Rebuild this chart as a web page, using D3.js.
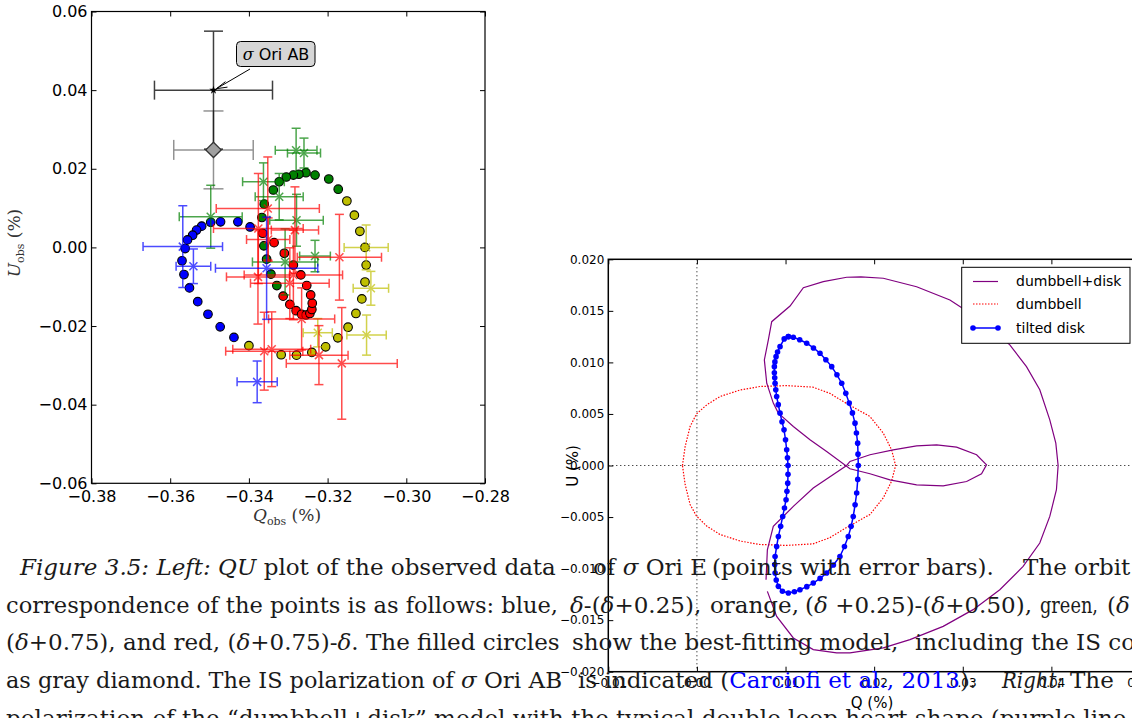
<!DOCTYPE html>
<html>
<head>
<meta charset="utf-8">
<script src="https://cdn.jsdelivr.net/npm/d3@7"></script>
<style>
  body { margin: 0; background: #fff; }
</style>
</head>
<body>
<div id="fig"></div>
<script>
// ----------------- //
// Left panel data (Q_obs, U_obs in %)
// ----------------- //
var qTicksL = [-0.38, -0.36, -0.34, -0.32, -0.30, -0.28]
var uTicksL = [-0.06, -0.04, -0.02, 0.00, 0.02, 0.04, 0.06]

// best-fitting model, one array per phase range
var modelBlue = [[-0.3397,0.0052],[-0.3428,0.0065],[-0.3472,0.0065],[-0.3497,0.0064],[-0.3520,0.0054],[-0.3533,0.0044],
  [-0.3543,0.0031],[-0.3556,0.0019],[-0.3562,-0.0003],[-0.3570,-0.0034],[-0.3565,-0.0069],[-0.3551,-0.0103],
  [-0.3530,-0.0138],[-0.3504,-0.0170],[-0.3473,-0.0202],[-0.3438,-0.0229]]
var modelYellow = [[-0.3400,-0.0250],[-0.3318,-0.0273],[-0.3279,-0.0274],[-0.3240,-0.0267],[-0.3205,-0.0253],[-0.3174,-0.0230],
  [-0.3148,-0.0203],[-0.3128,-0.0168],[-0.3113,-0.0131],[-0.3105,-0.0088],[-0.3102,-0.0045],[-0.3105,0.0000],
  [-0.3118,0.0041],[-0.3132,0.0082],[-0.3151,0.0118]]
var modelGreen = [[-0.3173,0.0148],[-0.3197,0.0174],[-0.3232,0.0184],[-0.3255,0.0190],[-0.3273,0.0186],[-0.3287,0.0184],
  [-0.3305,0.0179],[-0.3323,0.0167],[-0.3338,0.0146],[-0.3361,0.0110],[-0.3367,0.0076],[-0.3362,0.0004],
  [-0.3355,-0.0030],[-0.3344,-0.0068],[-0.3329,-0.0097]]
var modelRed = [[-0.3313,-0.0124],[-0.3296,-0.0145],[-0.3280,-0.0161],[-0.3266,-0.0170],[-0.3255,-0.0172],[-0.3245,-0.0168],
  [-0.3240,-0.0158],[-0.3239,-0.0142],[-0.3243,-0.0121],[-0.3253,-0.0097],[-0.3268,-0.0070],[-0.3287,-0.0045],
  [-0.3310,-0.0015],[-0.3336,0.0012],[-0.3365,0.0036]]

// observations: [Q, U, errQ, errU]
var obsBlue = [[-0.3568,0.0002,0.0101,0.0104],[-0.3541,-0.0048,0.0044,0.0044],[-0.3355,-0.0053,0.0130,0.0130],
  [-0.3379,-0.0342,0.0051,0.0053]]
var obsYellow = [[-0.3102,0.0000,0.0056,0.0057],[-0.3090,-0.0104,0.0045,0.0043],[-0.3101,-0.0223,0.0050,0.0051],
  [-0.3225,-0.0217,0.0037,0.0036]]
var obsGreen = [[-0.3280,0.0247,0.0053,0.0056],[-0.3260,0.0240,0.0042,0.0038],[-0.3497,0.0078,0.0080,0.0080],
  [-0.3363,0.0167,0.0053,0.0048],[-0.3323,0.0129,0.0061,0.0059],[-0.3279,0.0069,0.0068,0.0066],
  [-0.3308,-0.0037,0.0083,0.0084],[-0.3232,-0.0022,0.0039,0.0040]]
var obsRed = [[-0.3352,0.0099,0.0131,0.0131],[-0.3376,0.0048,0.0114,0.0140],[-0.3170,-0.0025,0.0107,0.0109],
  [-0.3351,0.0020,0.0055,0.0055],[-0.3283,0.0044,0.0060,0.0110],[-0.3164,-0.0295,0.0141,0.0142],
  [-0.3222,-0.0274,0.0074,0.0075],[-0.3361,-0.0264,0.0098,0.0099],[-0.3342,-0.0259,0.0099,0.0095],
  [-0.3266,-0.0182,0.0084,0.0079],[-0.3287,-0.0070,0.0125,0.0114],[-0.3296,-0.0091,0.0100,0.0090],
  [-0.3377,-0.0075,0.0080,0.0120]]
var isDiamond = [-0.3490, 0.0248, 0.0101, 0.0099]
var oriAB = [-0.3490, 0.0400, 0.0150, 0.0150]

// ----------------- //
// Right panel data (Q, U in %)
// ----------------- //
var qTicksR = [-0.01, 0.00, 0.01, 0.02, 0.03, 0.04, 0.05]
var uTicksR = [-0.020, -0.015, -0.010, -0.005, 0.000, 0.005, 0.010, 0.015, 0.020]

var dumbbellDisk = [[0.00919,0.00508],[0.00862,0.00605],[0.00788,0.00798],[0.00761,0.01024],[0.00806,0.01218],
  [0.00844,0.01395],[0.01051,0.01547],[0.01201,0.01725],[0.01426,0.01783],[0.01690,0.01826],[0.01850,0.01830],
  [0.02103,0.01816],[0.02479,0.01734],[0.02855,0.01606],[0.03230,0.01395],[0.03531,0.01170],[0.03719,0.00959],
  [0.03869,0.00734],[0.03982,0.00443],[0.04050,0.00217],[0.04076,0.00000],[0.04057,-0.00235],[0.03982,-0.00494],
  [0.03869,-0.00752],[0.03681,-0.00979],[0.03418,-0.01205],[0.03117,-0.01398],[0.02779,-0.01560],[0.02404,-0.01689],
  [0.02103,-0.01769],[0.01727,-0.01818],[0.01577,-0.01818],[0.01313,-0.01786],[0.01088,-0.01673],[0.00900,-0.01463],
  [0.00795,-0.01221], null,
  [0.00780,-0.01108],[0.00795,-0.00817],[0.00862,-0.00591],[0.01088,-0.00397],[0.01313,-0.00219],[0.01690,0.00000],
  [0.01727,0.00039],[0.01953,0.00104],[0.02215,0.00152],[0.02479,0.00191],[0.02705,0.00200],[0.02930,0.00178],
  [0.03156,0.00104],[0.03268,0.00007],[0.03212,-0.00080],[0.03043,-0.00155],[0.02779,-0.00197],[0.02479,-0.00187],
  [0.02178,-0.00139],[0.01953,-0.00080],[0.01727,-0.00032],[0.01464,0.00136],[0.01276,0.00249],[0.01088,0.00378],
  [0.00919,0.00508]]

var dumbbell = [[-0.00163,0.00000],[-0.00133,0.00184],[-0.00077,0.00378],[-0.00005,0.00500],[0.00111,0.00588],
  [0.00260,0.00669],[0.00490,0.00733],[0.00710,0.00766],[0.01010,0.00775],[0.01310,0.00760],[0.01500,0.00700],
  [0.01652,0.00620],[0.01953,0.00475],[0.02103,0.00314],[0.02197,0.00152],[0.02242,0.00000],[0.02197,-0.00152],
  [0.02103,-0.00314],[0.01953,-0.00475],[0.01652,-0.00620],[0.01500,-0.00700],[0.01310,-0.00760],[0.01010,-0.00775],
  [0.00710,-0.00766],[0.00490,-0.00733],[0.00260,-0.00669],[0.00111,-0.00588],[-0.00005,-0.00490],[-0.00077,-0.00378],
  [-0.00133,-0.00184],[-0.00163,0.00000]]

var tiltedDisk = [[0.01032,0.01250],[0.00985,0.01228],[0.00938,0.01153],[0.00910,0.01100],[0.00893,0.01056],
  [0.00880,0.01005],[0.00874,0.00959],[0.00874,0.00900],[0.00878,0.00850],[0.00882,0.00798],[0.00890,0.00735],
  [0.00900,0.00669],[0.00918,0.00590],[0.00938,0.00508],[0.00960,0.00425],[0.00983,0.00346],[0.01000,0.00250],
  [0.01013,0.00152],[0.01022,0.00075],[0.01028,0.00000],[0.01028,-0.00085],[0.01025,-0.00171],[0.01016,-0.00250],
  [0.01006,-0.00332],[0.00988,-0.00412],[0.00968,-0.00494],[0.00945,-0.00590],[0.00919,-0.00688],[0.00900,-0.00785],
  [0.00882,-0.00882],[0.00878,-0.00960],[0.00882,-0.01043],[0.00895,-0.01110],[0.00919,-0.01172],[0.00965,-0.01220],
  [0.01032,-0.01236],[0.01100,-0.01225],[0.01163,-0.01205],[0.01240,-0.01175],[0.01313,-0.01140],[0.01390,-0.01095],
  [0.01464,-0.01043],[0.01540,-0.00965],[0.01614,-0.00882],[0.01665,-0.00785],[0.01708,-0.00688],[0.01740,-0.00590],
  [0.01764,-0.00494],[0.01785,-0.00380],[0.01803,-0.00267],[0.01815,-0.00135],[0.01821,0.00000],[0.01818,0.00110],
  [0.01814,0.00217],[0.01800,0.00315],[0.01784,0.00411],[0.01755,0.00510],[0.01719,0.00605],[0.01680,0.00700],
  [0.01634,0.00798],[0.01580,0.00880],[0.01521,0.00959],[0.01455,0.01025],[0.01389,0.01089],[0.01315,0.01140],
  [0.01239,0.01186],[0.01160,0.01220],[0.01088,0.01244],[0.01032,0.01250]]

var legendNames = ["dumbbell+disk", "dumbbell", "tilted disk"]

var svg = d3.select("#fig").append("svg")
    .attr("width", 1132)
    .attr("height", 718)
    .attr("font-family", "DejaVu Sans")

// ------------------------------- //
// Left panel
// ------------------------------- //
var xL = d3.scaleLinear().domain([-0.38, -0.28]).range([91.5, 485])
var yL = d3.scaleLinear().domain([-0.06, 0.06]).range([483.3, 11.5])
var left = svg.append("g")

left.append("g")
    .attr("transform", "translate(0,483.3)")
    .call(d3.axisBottom(xL).tickValues(qTicksL).tickSize(-5).tickPadding(7).tickFormat(d3.format(".2f")))
    .call(function(g) { g.select(".domain").remove() })
    .attr("font-size", 16).attr("font-family", "DejaVu Sans")
left.append("g")
    .attr("transform", "translate(0,11.5)")
    .call(d3.axisTop(xL).tickValues(qTicksL).tickSize(-5).tickFormat(""))
    .call(function(g) { g.select(".domain").remove() })
left.append("g")
    .attr("transform", "translate(91.5,0)")
    .call(d3.axisLeft(yL).tickValues(uTicksL).tickSize(-5).tickPadding(4).tickFormat(d3.format(".2f")))
    .call(function(g) { g.select(".domain").remove() })
    .attr("font-size", 16).attr("font-family", "DejaVu Sans")
left.append("g")
    .attr("transform", "translate(485,0)")
    .call(d3.axisRight(yL).tickValues(uTicksL).tickSize(-5).tickFormat(""))
    .call(function(g) { g.select(".domain").remove() })
left.append("rect")
    .attr("x", 91.5).attr("y", 11.5).attr("width", 485 - 91.5).attr("height", 483.3 - 11.5)
    .attr("fill", "none").attr("stroke", "#000").attr("stroke-width", 1.2)

// error bars with caps and x marker
function errorBars(g, pts, color, op, cap, mark) {
  pts.forEach(function(d) {
    var cx = xL(d[0]), cy = yL(d[1])
    var x0 = xL(d[0] - d[2]), x1 = xL(d[0] + d[2])
    var y0 = yL(d[1] - d[3]), y1 = yL(d[1] + d[3])
    var e = g.append("g").attr("stroke", color).attr("stroke-width", 1.5).attr("opacity", op).attr("fill", "none")
    e.append("line").attr("x1", x0).attr("x2", x1).attr("y1", cy).attr("y2", cy)
    e.append("line").attr("x1", cx).attr("x2", cx).attr("y1", y0).attr("y2", y1)
    e.append("line").attr("x1", x0).attr("x2", x0).attr("y1", cy - cap).attr("y2", cy + cap)
    e.append("line").attr("x1", x1).attr("x2", x1).attr("y1", cy - cap).attr("y2", cy + cap)
    e.append("line").attr("x1", cx - cap).attr("x2", cx + cap).attr("y1", y0).attr("y2", y0)
    e.append("line").attr("x1", cx - cap).attr("x2", cx + cap).attr("y1", y1).attr("y2", y1)
    if (mark) {
      e.append("line").attr("x1", cx - 4).attr("x2", cx + 4).attr("y1", cy - 4).attr("y2", cy + 4)
      e.append("line").attr("x1", cx - 4).attr("x2", cx + 4).attr("y1", cy + 4).attr("y2", cy - 4)
    }
  })
}

// IS diamond and sigma Ori AB
errorBars(left, [isDiamond], "#808080", 0.85, 10, false)
errorBars(left, [oriAB], "#000", 0.75, 9.5, false)
left.append("path")
    .attr("d", d3.symbol().type(d3.symbolDiamond2).size(150)())
    .attr("transform", "translate(" + xL(isDiamond[0]) + "," + yL(isDiamond[1]) + ")")
    .attr("fill", "#a0a0a0").attr("stroke", "#333").attr("stroke-width", 1.3)
left.append("path")
    .attr("d", d3.symbol().type(d3.symbolStar).size(22)())
    .attr("transform", "translate(" + xL(oriAB[0]) + "," + yL(oriAB[1]) + ")")
    .attr("fill", "#000")

// model circles
var circleSets = [[modelBlue, "#0000ff"], [modelYellow, "#bfbf00"], [modelGreen, "#008000"], [modelRed, "#ff0000"]]
circleSets.forEach(function(s) {
  left.append("g").selectAll("circle")
    .data(s[0]).enter().append("circle")
    .attr("cx", function(d) { return xL(d[0]) })
    .attr("cy", function(d) { return yL(d[1]) })
    .attr("r", 4.3)
    .attr("fill", s[1]).attr("stroke", "#000").attr("stroke-width", 1.1)
})

// observed points
errorBars(left, obsGreen, "#008000", 0.7, 4.5, true)
errorBars(left, obsYellow, "#bfbf00", 0.7, 4.5, true)
errorBars(left, obsRed, "#ff0000", 0.7, 4.5, true)
errorBars(left, obsBlue, "#0000ff", 0.7, 4.5, true)

// annotation
left.append("line")
    .attr("x1", 250).attr("y1", 69).attr("x2", xL(oriAB[0]) + 3).attr("y2", yL(oriAB[1]) - 1.5)
    .attr("stroke", "#000").attr("stroke-width", 1)
left.append("path")
    .attr("d", "M" + (xL(oriAB[0]) + 12) + "," + (yL(oriAB[1]) - 8.5) + "L" + (xL(oriAB[0]) + 3) + "," + (yL(oriAB[1]) - 1.5) +
      "L" + (xL(oriAB[0]) + 14) + "," + (yL(oriAB[1]) - 3))
    .attr("fill", "none").attr("stroke", "#000").attr("stroke-width", 1)
left.append("rect")
    .attr("x", 236.5).attr("y", 41.5).attr("width", 78.5).attr("height", 25).attr("rx", 4)
    .attr("fill", "#d6d6d6").attr("stroke", "#000").attr("stroke-width", 1)
var ann = left.append("text").attr("x", 276).attr("y", 59.5).attr("text-anchor", "middle").attr("font-size", 16)
ann.append("tspan").attr("font-family", "DejaVu Serif").attr("font-style", "italic").text("σ")
ann.append("tspan").text(" Ori AB")

// axis labels
var yLab = left.append("text")
    .attr("transform", "translate(20,243) rotate(-90)")
    .attr("text-anchor", "middle").attr("font-family", "DejaVu Serif").attr("font-size", 17).attr("fill", "#333")
yLab.append("tspan").attr("font-style", "italic").text("U")
yLab.append("tspan").attr("font-size", 11).attr("dy", 4).text("obs")
yLab.append("tspan").attr("dy", -4).text(" (%)")
var xLab = left.append("text")
    .attr("x", 287).attr("y", 521)
    .attr("text-anchor", "middle").attr("font-family", "DejaVu Serif").attr("font-size", 17).attr("fill", "#333")
xLab.append("tspan").attr("font-style", "italic").text("Q")
xLab.append("tspan").attr("font-size", 11).attr("dy", 4).text("obs")
xLab.append("tspan").attr("dy", -4).text(" (%)")

// ------------------------------- //
// Right panel
// ------------------------------- //
var xR = d3.scaleLinear().domain([-0.01, 0.05]).range([608.3, 1140])
var yR = d3.scaleLinear().domain([-0.02, 0.02]).range([671.7, 259.3])
var right = svg.append("g")

right.append("g")
    .attr("transform", "translate(0,671.7)")
    .call(d3.axisBottom(xR).tickValues(qTicksR).tickSize(-5).tickPadding(6.5).tickFormat(d3.format(".2f")))
    .call(function(g) { g.select(".domain").remove() })
    .attr("font-size", 12).attr("font-family", "DejaVu Sans")
right.append("g")
    .attr("transform", "translate(0,259.3)")
    .call(d3.axisTop(xR).tickValues(qTicksR).tickSize(-5).tickFormat(""))
    .call(function(g) { g.select(".domain").remove() })
right.append("g")
    .attr("transform", "translate(608.3,0)")
    .call(d3.axisLeft(yR).tickValues(uTicksR).tickSize(-5).tickPadding(4).tickFormat(d3.format(".3f")))
    .call(function(g) { g.select(".domain").remove() })
    .attr("font-size", 12).attr("font-family", "DejaVu Sans")
right.append("rect")
    .attr("x", 608.3).attr("y", 259.3).attr("width", 1140 - 608.3).attr("height", 671.7 - 259.3)
    .attr("fill", "none").attr("stroke", "#000").attr("stroke-width", 1.5)

// zero lines
right.append("line")
    .attr("x1", xR(0)).attr("x2", xR(0)).attr("y1", yR(0.02)).attr("y2", yR(-0.02))
    .attr("stroke", "#000").attr("stroke-dasharray", "1,3")
right.append("line")
    .attr("x1", xR(-0.01)).attr("x2", xR(0.05)).attr("y1", yR(0)).attr("y2", yR(0))
    .attr("stroke", "#000").attr("stroke-dasharray", "1,3")

var lineR = d3.line()
    .defined(function(d) { return d != null })
    .x(function(d) { return xR(d[0]) })
    .y(function(d) { return yR(d[1]) })

right.append("path").datum(dumbbell).attr("d", lineR)
    .attr("fill", "none").attr("stroke", "#ff0000").attr("stroke-width", 1.2).attr("stroke-dasharray", "1.5,1.5")
right.append("path").datum(dumbbellDisk).attr("d", lineR)
    .attr("fill", "none").attr("stroke", "#800080").attr("stroke-width", 1.2)
right.append("path").datum(tiltedDisk).attr("d", lineR)
    .attr("fill", "none").attr("stroke", "#0000ff").attr("stroke-width", 1.5)
right.append("g").selectAll("circle")
    .data(tiltedDisk).enter().append("circle")
    .attr("cx", function(d) { return xR(d[0]) })
    .attr("cy", function(d) { return yR(d[1]) })
    .attr("r", 2.8).attr("fill", "#0000ff")

// legend
var leg = right.append("g")
leg.append("rect").attr("x", 961.7).attr("y", 267.3).attr("width", 168.3).attr("height", 76)
    .attr("fill", "#fff").attr("stroke", "#000").attr("stroke-width", 1)
var legY = [281.5, 304, 328]
leg.append("line").attr("x1", 973).attr("x2", 998).attr("y1", legY[0]).attr("y2", legY[0])
    .attr("stroke", "#800080").attr("stroke-width", 1.2)
leg.append("line").attr("x1", 973).attr("x2", 998).attr("y1", legY[1]).attr("y2", legY[1])
    .attr("stroke", "#ff0000").attr("stroke-width", 1.2).attr("stroke-dasharray", "1.5,1.5")
leg.append("line").attr("x1", 973).attr("x2", 998).attr("y1", legY[2]).attr("y2", legY[2])
    .attr("stroke", "#0000ff").attr("stroke-width", 1.5)
leg.selectAll("circle.m").data([973, 998]).enter().append("circle")
    .attr("cx", function(d) { return d }).attr("cy", legY[2]).attr("r", 2.8).attr("fill", "#0000ff")
leg.selectAll("text").data(legendNames).enter().append("text")
    .attr("x", 1016).attr("y", function(d, i) { return legY[i] })
    .attr("dy", "0.35em").attr("font-size", 14).text(function(d) { return d })

right.append("text")
    .attr("x", 872).attr("y", 708).attr("text-anchor", "middle").attr("font-size", 15).text("Q (%)")
right.append("text")
    .attr("transform", "translate(578,466) rotate(-90)")
    .attr("text-anchor", "middle").attr("font-size", 15).text("U (%)")

// ------------------------------- //
// Caption text (overlaps the right panel)
// ------------------------------- //
var cap = svg.append("g").attr("font-family", "DejaVu Serif").attr("font-size", 23).attr("fill", "#1a1a1a")
function capLine(y, parts) {
  var t = cap.append("text").attr("y", y)
  parts.forEach(function(p) {
    var s = t.append("tspan").text(p.t)
    if (p.x != null) s.attr("x", p.x)
    if (p.i) s.attr("font-style", "italic")
    if (p.c) s.attr("fill", p.c)
    if (p.w) s.attr("textLength", p.w).attr("lengthAdjust", "spacingAndGlyphs")
  })
}
capLine(575, [
  { t: "Figure 3.5: Left:", x: 20, i: true }, { t: " " }, { t: "QU", i: true }, { t: " plot of the observed data" },
  { t: "of ", x: 593 }, { t: "σ", i: true }, { t: " Ori E" },
  { t: "(points with error bars).", x: 712 },
  { t: "The orbit", x: 1023 }])
capLine(612.5, [
  { t: "correspondence of the points is as follows: blue,", x: 6, w: 552 },
  { t: "δ", x: 570, i: true }, { t: "-(" }, { t: "δ", i: true }, { t: "+0.25)," },
  { t: "orange,", x: 710 },
  { t: "(", x: 805 }, { t: "δ", i: true }, { t: " +0.25)-(" }, { t: "δ", i: true }, { t: "+0.50)," },
  { t: "green,", x: 1040, w: 58 }, { t: "(", x: 1107 }, { t: "δ", i: true }])
capLine(650, [
  { t: "(", x: 6 }, { t: "δ", i: true }, { t: "+0.75), and red, (" }, { t: "δ", i: true }, { t: "+0.75)-" },
  { t: "δ", i: true }, { t: ". The filled circles" },
  { t: "show the best-fitting model,", x: 572 },
  { t: "including the IS component", x: 915 }])
capLine(688, [
  { t: "as gray diamond. The IS polarization of ", x: 6, w: 455 }, { t: "σ", i: true }, { t: " Ori AB" },
  { t: "is indicated (", x: 578 }, { t: "Carciofi et al., 2013", c: "#0000ff" }, { t: ")." },
  { t: "Right:", x: 1002, i: true, w: 61 }, { t: "The", x: 1070 }])
capLine(726, [
  { t: "polarization of the “dumbbell+disk” model with the typical double loop heart shape (purple line", x: 6 }])
</script>
</body>
</html>
